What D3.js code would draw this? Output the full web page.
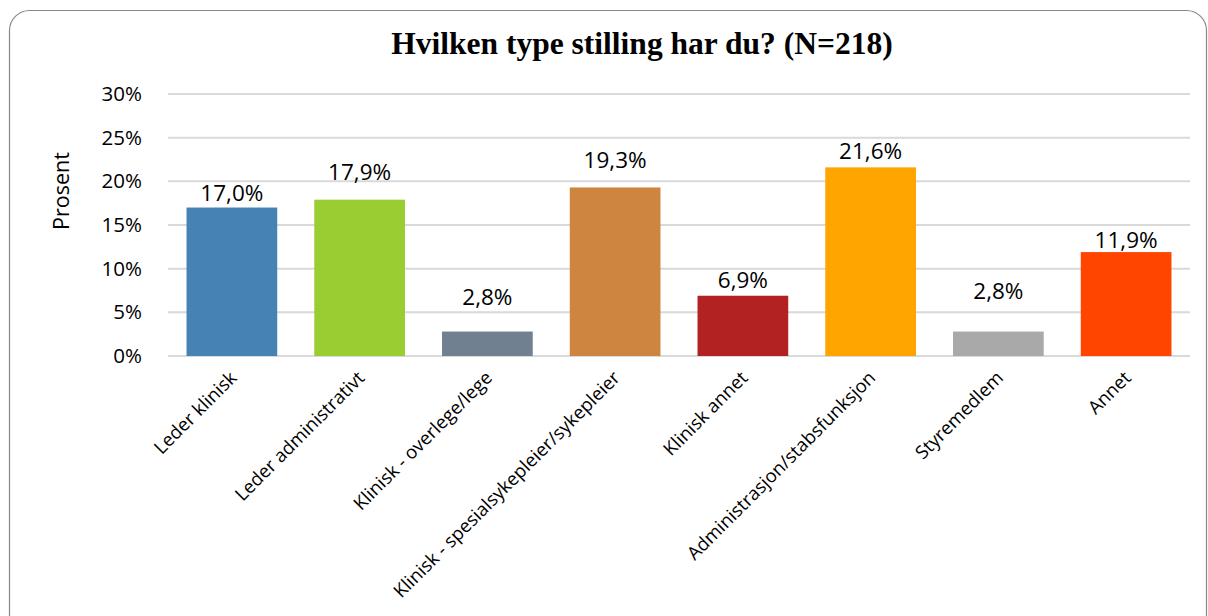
<!DOCTYPE html>
<html>
<head>
<meta charset="utf-8">
<script src="https://cdn.jsdelivr.net/npm/d3@7"></script>
<style>
  body { margin: 0; background: #fff; }
  svg { display: block; }
</style>
</head>
<body>
<svg id="chart" width="1208" height="616"></svg>
<script>
const categories = ["Leder klinisk", "Leder administrativt", "Klinisk - overlege/lege",
  "Klinisk - spesialsykepleier/sykepleier", "Klinisk annet", "Administrasjon/stabsfunksjon",
  "Styremedlem", "Annet"];
const values = [17.0, 17.9, 2.8, 19.3, 6.9, 21.6, 2.8, 11.9];
const colors = ["#4682B4", "#9ACD32", "#708090", "#CD853F", "#B22222", "#FFA500", "#A9A9A9", "#FF4500"];
const yTicks = [0, 5, 10, 15, 20, 25, 30];

const svg = d3.select("#chart");
const font = "'Open Sans', 'DejaVu Sans', sans-serif";

// outer frame
svg.append("rect")
  .attr("x", 9.5).attr("y", 10.5)
  .attr("width", 1197).attr("height", 630)
  .attr("rx", 20)
  .attr("fill", "#fff")
  .attr("stroke", "#888").attr("stroke-width", 1.2);

svg.append("text")
  .attr("x", 642).attr("y", 54)
  .attr("text-anchor", "middle")
  .attr("font-family", "'Liberation Serif', 'Times New Roman', serif")
  .attr("font-weight", "bold")
  .attr("font-size", 31.5)
  .text("Hvilken type stilling har du? (N=218)");

const x = d3.scaleBand().domain(categories).range([168, 1190]).paddingInner(0.29).paddingOuter(0.145);
const y = d3.scaleLinear().domain([0, 30]).range([356, 94]);

// gridlines
svg.append("g").selectAll("line")
  .data(yTicks).join("line")
  .attr("x1", 168).attr("x2", 1190)
  .attr("y1", d => y(d)).attr("y2", d => y(d))
  .attr("stroke", "#d9d9d9").attr("stroke-width", 2);

// y axis
const yAxis = svg.append("g")
  .attr("transform", "translate(142,0)")
  .call(d3.axisLeft(y).tickValues(yTicks).tickFormat(d => d + "%").tickSize(0).tickPadding(0));
yAxis.select(".domain").remove();
yAxis.selectAll("text")
  .attr("font-family", font).attr("font-size", 20.5).attr("fill", "#000");

svg.append("text")
  .attr("transform", "translate(69,191) rotate(-90)")
  .attr("text-anchor", "middle")
  .attr("font-family", font).attr("font-size", 21.5)
  .text("Prosent");

// bars
svg.append("g").selectAll("rect")
  .data(values).join("rect")
  .attr("x", (d, i) => x(categories[i]))
  .attr("y", d => y(d))
  .attr("width", x.bandwidth())
  .attr("height", d => y(0) - y(d))
  .attr("fill", (d, i) => colors[i]);

// value labels (hand-placed in the original, so the gap above each bar varies)
const labelGap = [7, 20, 27, 19, 8, 8, 33, 4];
svg.append("g").selectAll("text")
  .data(values).join("text")
  .attr("x", (d, i) => x(categories[i]) + x.bandwidth() / 2)
  .attr("y", (d, i) => y(d) - labelGap[i])
  .attr("text-anchor", "middle")
  .attr("font-family", font).attr("font-size", 22.5)
  .text(d => d.toFixed(1).replace(".", ",") + "%");

// category labels
svg.append("g").selectAll("text")
  .data(categories).join("text")
  .attr("transform", d => `translate(${x(d) + x.bandwidth() / 2 + 6},${379}) rotate(-45)`)
  .attr("text-anchor", "end")
  .attr("font-family", font).attr("font-size", 18.5)
  .text(d => d);
</script>
</body>
</html>
